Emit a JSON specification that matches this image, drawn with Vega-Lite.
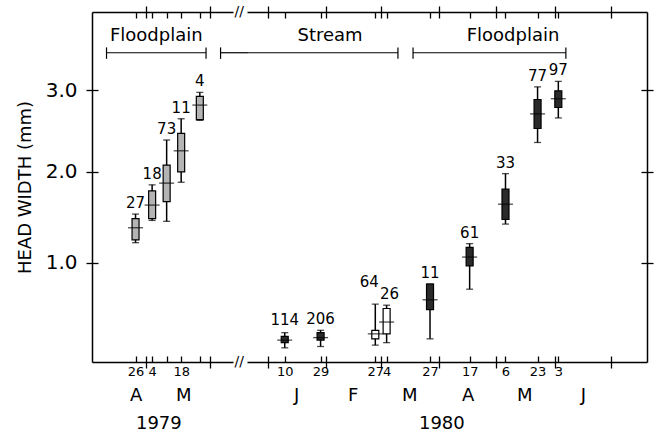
{
  "$schema": "https://vega.github.io/schema/vega-lite/v6.json",
  "autosize": {"type": "pad"},
  "padding": {"left": 16, "top": 5, "right": 4, "bottom": 0},
  "background": "white",
  "spacing": 14,
  "bounds": "flush",
  "config": {
    "font": "DejaVu Sans",
    "scale": {"continuousPadding": 0},
    "view": {"stroke": null},
    "axis": {"domain": false, "domainColor": "black", "domainWidth": 1.5, "grid": false, "tickColor": "black", "tickWidth": 1.3, "labelColor": "black", "labelFont": "DejaVu Sans", "titleColor": "black", "titleFont": "DejaVu Sans", "labelOverlap": false, "labelFlush": false, "labelBound": false, "title": null}
  },
  "datasets": {
    "boxes79": [
      {"date": "1979-04-26", "n": 27, "wmin": 1.21, "bmin": 1.24, "mean": 1.37, "bmax": 1.47, "wmax": 1.52},
      {"date": "1979-05-04", "n": 18, "wmin": 1.45, "bmin": 1.47, "mean": 1.62, "bmax": 1.78, "wmax": 1.85},
      {"date": "1979-05-11", "n": 73, "wmin": 1.44, "bmin": 1.66, "mean": 1.87, "bmax": 2.08, "wmax": 2.38},
      {"date": "1979-05-18", "n": 11, "wmin": 1.88, "bmin": 2.0, "mean": 2.25, "bmax": 2.46, "wmax": 2.64},
      {"date": "1979-05-27", "n": 4, "wmin": 2.62, "bmin": 2.63, "mean": 2.81, "bmax": 2.92, "wmax": 2.97}
    ],
    "boxes80": [
      {"date": "1980-01-10", "n": 114, "wmin": 0.23, "bmin": 0.27, "mean": 0.29, "bmax": 0.32, "wmax": 0.35},
      {"date": "1980-01-29", "n": 206, "wmin": 0.24, "bmin": 0.29, "mean": 0.31, "bmax": 0.35, "wmax": 0.37},
      {"date": "1980-02-27", "n": 64, "wmin": 0.25, "bmin": 0.3, "mean": 0.34, "bmax": 0.37, "wmax": 0.6},
      {"date": "1980-03-04", "n": 26, "wmin": 0.27, "bmin": 0.34, "mean": 0.44, "bmax": 0.56, "wmax": 0.59},
      {"date": "1980-03-27", "n": 11, "wmin": 0.3, "bmin": 0.55, "mean": 0.64, "bmax": 0.79, "wmax": 0.79},
      {"date": "1980-04-17", "n": 61, "wmin": 0.74, "bmin": 0.97, "mean": 1.06, "bmax": 1.16, "wmax": 1.2},
      {"date": "1980-05-06", "n": 33, "wmin": 1.41, "bmin": 1.46, "mean": 1.63, "bmax": 1.8, "wmax": 1.98},
      {"date": "1980-05-23", "n": 77, "wmin": 2.35, "bmin": 2.52, "mean": 2.7, "bmax": 2.88, "wmax": 3.04},
      {"date": "1980-06-03", "n": 97, "wmin": 2.65, "bmin": 2.78, "mean": 2.89, "bmax": 2.99, "wmax": 3.11}
    ],
    "headers79": [{"date": "1979-05-06", "label": "Floodplain"}],
    "headers80": [{"date": "1980-02-03", "label": "Stream"}, {"date": "1980-05-10", "label": "Floodplain"}],
    "brackets79": [{"start": "1979-04-12", "end": "1979-05-30"}, {"start": "1979-06-06", "end": "1979-06-19"}],
    "brackets80": [{"start": "1979-12-21", "end": "1980-03-10"}, {"start": "1980-03-18", "end": "1980-06-07"}],
    "ends79": [{"date": "1979-04-12"}, {"date": "1979-05-30"}, {"date": "1979-06-06"}],
    "ends80": [{"date": "1980-03-10"}, {"date": "1980-03-18"}, {"date": "1980-06-07"}],
    "breaks": [{"date": "1979-06-15"}]
  },
  "hconcat": [
    {
      "width": 141,
      "height": 350,
      "resolve": {"axis": {"x": "independent", "y": "independent"}},
      "layer": [
        {
          "data": {"name": "boxes79"},
          "mark": {"type": "rule", "color": "black", "strokeWidth": 1.5},
          "encoding": {
            "x": {"field": "date", "type": "temporal", "scale": {"type": "time", "nice": false, "domain": [292118400000, 297993600000]},
              "axis": {"orient": "bottom", "offset": -6, "tickSize": 6, "labelPadding": 3, "labelFontSize": 13,
                "values": [293932800000, 294364800000, 294624000000, 295228800000, 295833600000, 296611200000, 297043200000],
                "labelExpr": "(utcdate(datum.value) == 1 || utcdate(datum.value) == 11 || utcdate(datum.value) == 27) ? '' : '' + utcdate(datum.value)"}},
            "y": {"field": "wmin", "type": "quantitative", "scale": {"type": "pow", "exponent": 0.8, "domain": [0.128, 4.02], "nice": false, "zero": false},
              "axis": {"orient": "left", "domain": true, "values": [1, 2, 3], "format": ".1f", "tickSize": 6, "labelPadding": 9, "labelFontSize": 20, "title": "HEAD WIDTH (mm)", "titleFontSize": 18, "titleFontWeight": "normal", "titlePadding": 11}},
            "y2": {"field": "wmax"}
          }
        },
        {
          "data": {"name": "boxes79"},
          "mark": {"type": "tick", "orient": "horizontal", "size": 7, "thickness": 1.3, "color": "black"},
          "encoding": {
            "x": {"field": "date", "type": "temporal", "scale": {"type": "time", "nice": false, "domain": [292118400000, 297993600000]},
              "axis": {"orient": "bottom", "domain": true, "tickSize": 6, "labels": false, "values": [294364800000, 297043200000]}},
            "y": {"field": "wmin", "type": "quantitative", "scale": {"type": "pow", "exponent": 0.8, "domain": [0.128, 4.02], "nice": false, "zero": false},
              "axis": {"orient": "left", "values": [1, 2, 3], "offset": -6, "tickSize": 6, "labels": false}}
          }
        },
        {
          "data": {"name": "boxes79"},
          "mark": {"type": "tick", "orient": "horizontal", "size": 7, "thickness": 1.3, "color": "black"},
          "encoding": {
            "x": {"field": "date", "type": "temporal", "scale": {"type": "time", "nice": false, "domain": [292118400000, 297993600000]},
              "axis": {"orient": "bottom", "ticks": false, "labelPadding": 24, "labelFontSize": 18, "values": [293932800000, 295920000000],
                "labelExpr": "substring(utcFormat(datum.value, '%B'), 0, 1)"}},
            "y": {"field": "wmax", "type": "quantitative", "scale": {"type": "pow", "exponent": 0.8, "domain": [0.128, 4.02], "nice": false, "zero": false}, "axis": null}
          }
        },
        {
          "data": {"name": "boxes79"},
          "mark": {"type": "bar", "size": 7, "fill": "#b4b4b4", "stroke": "black", "strokeWidth": 1.2},
          "encoding": {
            "x": {"field": "date", "type": "temporal", "scale": {"type": "time", "nice": false, "domain": [292118400000, 297993600000]},
              "axis": {"orient": "bottom", "ticks": false, "labelPadding": 52, "labelFontSize": 18, "values": [294883200000], "labelExpr": "'' + utcyear(datum.value)"}},
            "y": {"field": "bmin", "type": "quantitative", "scale": {"type": "pow", "exponent": 0.8, "domain": [0.128, 4.02], "nice": false, "zero": false}, "axis": null},
            "y2": {"field": "bmax"}
          }
        },
        {
          "data": {"name": "boxes79"},
          "mark": {"type": "tick", "orient": "horizontal", "size": 15, "thickness": 1.3, "color": "black"},
          "encoding": {
            "x": {"field": "date", "type": "temporal", "scale": {"type": "time", "nice": false, "domain": [292118400000, 297993600000]},
              "axis": {"orient": "top", "offset": -6, "tickSize": 6, "labels": false, "values": [293932800000, 294364800000, 294624000000, 295228800000, 295833600000, 296611200000, 297043200000]}},
            "y": {"field": "mean", "type": "quantitative", "scale": {"type": "pow", "exponent": 0.8, "domain": [0.128, 4.02], "nice": false, "zero": false}, "axis": null}
          }
        },
        {
          "data": {"name": "boxes79"},
          "mark": {"type": "text", "baseline": "bottom", "dy": -3, "fontSize": 15, "color": "black"},
          "encoding": {
            "x": {"field": "date", "type": "temporal", "scale": {"type": "time", "nice": false, "domain": [292118400000, 297993600000]},
              "axis": {"orient": "top", "domain": true, "tickSize": 6, "labels": false, "values": [294364800000, 297043200000]}},
            "y": {"field": "wmax", "type": "quantitative", "scale": {"type": "pow", "exponent": 0.8, "domain": [0.128, 4.02], "nice": false, "zero": false}, "axis": null},
            "text": {"field": "n", "type": "nominal"}
          }
        },
        {
          "data": {"name": "headers79"},
          "mark": {"type": "text", "baseline": "middle", "fontSize": 18, "color": "black"},
          "encoding": {
            "x": {"field": "date", "type": "temporal", "scale": {"type": "time", "nice": false, "domain": [292118400000, 297993600000]}, "axis": null},
            "y": {"datum": 3.7, "type": "quantitative", "scale": {"type": "pow", "exponent": 0.8, "domain": [0.128, 4.02], "nice": false, "zero": false}, "axis": null},
            "text": {"field": "label", "type": "nominal"}
          }
        },
        {
          "data": {"name": "brackets79"},
          "mark": {"type": "rule", "color": "black", "strokeWidth": 1.2},
          "encoding": {
            "x": {"field": "start", "type": "temporal", "scale": {"type": "time", "nice": false, "domain": [292118400000, 297993600000]}, "axis": null},
            "x2": {"field": "end"},
            "y": {"datum": 3.48, "type": "quantitative", "scale": {"type": "pow", "exponent": 0.8, "domain": [0.128, 4.02], "nice": false, "zero": false}, "axis": null}
          }
        },
        {
          "data": {"name": "ends79"},
          "mark": {"type": "rule", "color": "black", "strokeWidth": 1.2},
          "encoding": {
            "x": {"field": "date", "type": "temporal", "scale": {"type": "time", "nice": false, "domain": [292118400000, 297993600000]}, "axis": null},
            "y": {"datum": 3.4, "type": "quantitative", "scale": {"type": "pow", "exponent": 0.8, "domain": [0.128, 4.02], "nice": false, "zero": false}, "axis": null},
            "y2": {"datum": 3.55}
          }
        },
        {
          "data": {"name": "breaks"},
          "mark": {"type": "text", "baseline": "middle", "fontSize": 14, "color": "black", "text": "//"},
          "encoding": {
            "x": {"field": "date", "type": "temporal", "scale": {"type": "time", "nice": false, "domain": [292118400000, 297993600000]}, "axis": null},
            "y": {"datum": 0.128, "type": "quantitative", "scale": {"type": "pow", "exponent": 0.8, "domain": [0.128, 4.02], "nice": false, "zero": false}, "axis": null}
          }
        },
        {
          "data": {"name": "breaks"},
          "mark": {"type": "text", "baseline": "middle", "fontSize": 14, "color": "black", "text": "//"},
          "encoding": {
            "x": {"field": "date", "type": "temporal", "scale": {"type": "time", "nice": false, "domain": [292118400000, 297993600000]}, "axis": null},
            "y": {"datum": 4.02, "type": "quantitative", "scale": {"type": "pow", "exponent": 0.8, "domain": [0.128, 4.02], "nice": false, "zero": false}, "axis": null}
          }
        }
      ]
    },
    {
      "width": 400,
      "height": 350,
      "resolve": {"axis": {"x": "independent", "y": "independent"}},
      "layer": [
        {
          "data": {"name": "boxes80"},
          "mark": {"type": "rule", "color": "black", "strokeWidth": 1.5},
          "encoding": {
            "x": {"field": "date", "type": "temporal", "scale": {"type": "time", "nice": false, "domain": [314582400000, 332899200000]},
              "axis": {"orient": "bottom", "offset": -6, "tickSize": 6, "labelPadding": 3, "labelFontSize": 13,
                "values": [315532800000, 316310400000, 317952000000, 318211200000, 320457600000, 320716800000, 320976000000, 322963200000, 323395200000, 324777600000, 325987200000, 326419200000, 327888000000, 328665600000, 328838400000, 331257600000],
                "labelExpr": "utcdate(datum.value) == 1 ? '' : '' + utcdate(datum.value)"}},
            "y": {"field": "wmin", "type": "quantitative", "scale": {"type": "pow", "exponent": 0.8, "domain": [0.128, 4.02], "nice": false, "zero": false},
              "axis": {"orient": "right", "domain": true, "values": [1, 2, 3], "tickSize": 6, "labels": false}},
            "y2": {"field": "wmax"}
          }
        },
        {
          "data": {"name": "boxes80"},
          "mark": {"type": "tick", "orient": "horizontal", "size": 7, "thickness": 1.3, "color": "black"},
          "encoding": {
            "x": {"field": "date", "type": "temporal", "scale": {"type": "time", "nice": false, "domain": [314582400000, 332899200000]},
              "axis": {"orient": "bottom", "domain": true, "tickSize": 6, "labels": false, "values": [315532800000, 318211200000, 320716800000, 323395200000, 325987200000, 328665600000, 331257600000]}},
            "y": {"field": "wmin", "type": "quantitative", "scale": {"type": "pow", "exponent": 0.8, "domain": [0.128, 4.02], "nice": false, "zero": false},
              "axis": {"orient": "right", "values": [1, 2, 3], "offset": -6, "tickSize": 6, "labels": false}}
          }
        },
        {
          "data": {"name": "boxes80"},
          "mark": {"type": "tick", "orient": "horizontal", "size": 7, "thickness": 1.3, "color": "black"},
          "encoding": {
            "x": {"field": "date", "type": "temporal", "scale": {"type": "time", "nice": false, "domain": [314582400000, 332899200000]},
              "axis": {"orient": "bottom", "ticks": false, "labelPadding": 24, "labelFontSize": 18, "values": [316828800000, 319420800000, 322012800000, 324691200000, 327283200000, 329961600000],
                "labelExpr": "substring(utcFormat(datum.value, '%B'), 0, 1)"}},
            "y": {"field": "wmax", "type": "quantitative", "scale": {"type": "pow", "exponent": 0.8, "domain": [0.128, 4.02], "nice": false, "zero": false}, "axis": null}
          }
        },
        {
          "data": {"name": "boxes80"},
          "mark": {"type": "bar", "size": 7, "fill": {"expr": "datum.n == 64 || datum.n == 26 ? 'white' : '#2a2a2a'"}, "stroke": "black", "strokeWidth": 1.2},
          "encoding": {
            "x": {"field": "date", "type": "temporal", "scale": {"type": "time", "nice": false, "domain": [314582400000, 332899200000]},
              "axis": {"orient": "bottom", "ticks": false, "labelPadding": 52, "labelFontSize": 18, "values": [323481600000], "labelExpr": "'' + utcyear(datum.value)"}},
            "y": {"field": "bmin", "type": "quantitative", "scale": {"type": "pow", "exponent": 0.8, "domain": [0.128, 4.02], "nice": false, "zero": false}, "axis": null},
            "y2": {"field": "bmax"}
          }
        },
        {
          "data": {"name": "boxes80"},
          "mark": {"type": "tick", "orient": "horizontal", "size": 15, "thickness": 1.3, "color": "black"},
          "encoding": {
            "x": {"field": "date", "type": "temporal", "scale": {"type": "time", "nice": false, "domain": [314582400000, 332899200000]},
              "axis": {"orient": "top", "offset": -6, "tickSize": 6, "labels": false, "values": [315532800000, 316310400000, 317952000000, 318211200000, 320457600000, 320716800000, 320976000000, 322963200000, 323395200000, 324777600000, 325987200000, 326419200000, 327888000000, 328665600000, 328838400000, 331257600000]}},
            "y": {"field": "mean", "type": "quantitative", "scale": {"type": "pow", "exponent": 0.8, "domain": [0.128, 4.02], "nice": false, "zero": false}, "axis": null}
          }
        },
        {
          "data": {"name": "boxes80"},
          "mark": {"type": "text", "baseline": "bottom", "fontSize": 15, "color": "black",
            "dx": {"expr": "datum.n == 64 ? -6 : (datum.n == 26 ? 3 : 0)"},
            "dy": {"expr": "datum.n == 64 ? -14 : (datum.n == 114 ? -5 : -3)"}},
          "encoding": {
            "x": {"field": "date", "type": "temporal", "scale": {"type": "time", "nice": false, "domain": [314582400000, 332899200000]},
              "axis": {"orient": "top", "domain": true, "tickSize": 6, "labels": false, "values": [315532800000, 318211200000, 320716800000, 323395200000, 325987200000, 328665600000, 331257600000]}},
            "y": {"field": "wmax", "type": "quantitative", "scale": {"type": "pow", "exponent": 0.8, "domain": [0.128, 4.02], "nice": false, "zero": false}, "axis": null},
            "text": {"field": "n", "type": "nominal"}
          }
        },
        {
          "data": {"name": "headers80"},
          "mark": {"type": "text", "baseline": "middle", "fontSize": 18, "color": "black"},
          "encoding": {
            "x": {"field": "date", "type": "temporal", "scale": {"type": "time", "nice": false, "domain": [314582400000, 332899200000]}, "axis": null},
            "y": {"datum": 3.7, "type": "quantitative", "scale": {"type": "pow", "exponent": 0.8, "domain": [0.128, 4.02], "nice": false, "zero": false}, "axis": null},
            "text": {"field": "label", "type": "nominal"}
          }
        },
        {
          "data": {"name": "brackets80"},
          "mark": {"type": "rule", "color": "black", "strokeWidth": 1.2},
          "encoding": {
            "x": {"field": "start", "type": "temporal", "scale": {"type": "time", "nice": false, "domain": [314582400000, 332899200000]}, "axis": null},
            "x2": {"field": "end"},
            "y": {"datum": 3.48, "type": "quantitative", "scale": {"type": "pow", "exponent": 0.8, "domain": [0.128, 4.02], "nice": false, "zero": false}, "axis": null}
          }
        },
        {
          "data": {"name": "ends80"},
          "mark": {"type": "rule", "color": "black", "strokeWidth": 1.2},
          "encoding": {
            "x": {"field": "date", "type": "temporal", "scale": {"type": "time", "nice": false, "domain": [314582400000, 332899200000]}, "axis": null},
            "y": {"datum": 3.4, "type": "quantitative", "scale": {"type": "pow", "exponent": 0.8, "domain": [0.128, 4.02], "nice": false, "zero": false}, "axis": null},
            "y2": {"datum": 3.55}
          }
        }
      ]
    }
  ]
}
